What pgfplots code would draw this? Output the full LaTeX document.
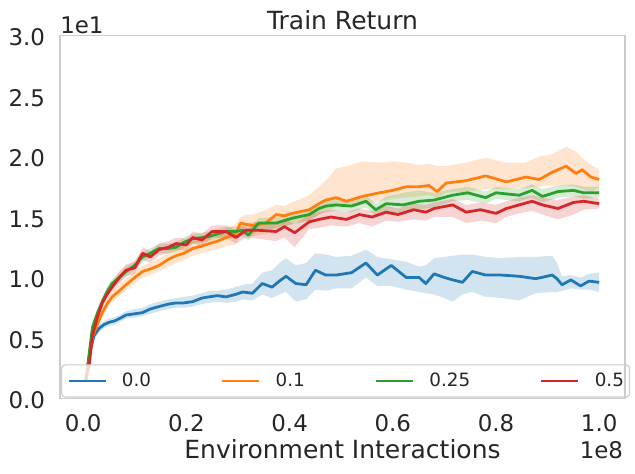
\documentclass[border=0pt]{standalone}
\usepackage{fontspec}
\setmainfont{DejaVu Sans}
\usepackage{pgfplots}
\pgfplotsset{compat=1.18}
\usepackage{pgfplotstable}
\usepgfplotslibrary{fillbetween}
\definecolor{tabblue}{HTML}{1F77B4}
\definecolor{taborange}{HTML}{FF7F0E}
\definecolor{tabgreen}{HTML}{2CA02C}
\definecolor{tabred}{HTML}{D62728}
\definecolor{txt}{HTML}{262626}
\definecolor{spine}{HTML}{CCCCCC}

\pgfplotstableread{
x m lo hi
0.005 0.15 0.12 0.18
0.010 0.30 0.27 0.33
0.015 0.42 0.39 0.45
0.021 0.52 0.49 0.55
0.031 0.58 0.55 0.61
0.040 0.61 0.58 0.64
0.050 0.63 0.60 0.66
0.060 0.64 0.61 0.67
0.070 0.66 0.63 0.69
0.083 0.69 0.66 0.72
0.100 0.70 0.67 0.74
0.115 0.71 0.68 0.75
0.130 0.74 0.70 0.78
0.147 0.76 0.72 0.80
0.165 0.78 0.74 0.82
0.180 0.79 0.75 0.83
0.195 0.79 0.75 0.84
0.212 0.80 0.76 0.85
0.230 0.83 0.78 0.87
0.244 0.84 0.79 0.89
0.260 0.85 0.80 0.89
0.277 0.84 0.79 0.90
0.295 0.86 0.80 0.92
0.309 0.88 0.82 0.94
0.328 0.87 0.81 0.95
0.347 0.95 0.86 1.04
0.366 0.92 0.83 1.06
0.380 0.97 0.86 1.12
0.393 1.01 0.88 1.16
0.412 0.95 0.80 1.10
0.432 0.94 0.82 1.12
0.450 1.06 0.90 1.20
0.470 1.02 0.89 1.19
0.490 1.02 0.91 1.17
0.520 1.04 0.91 1.18
0.548 1.12 1.00 1.23
0.570 1.02 0.93 1.17
0.597 1.10 0.93 1.15
0.626 1.00 0.90 1.13
0.651 1.00 0.88 1.09
0.664 0.95 0.87 1.10
0.680 1.03 0.86 1.16
0.700 1.00 0.83 1.17
0.716 0.98 0.80 1.18
0.735 0.96 0.86 1.19
0.754 1.05 0.88 1.19
0.780 1.02 0.84 1.17
0.810 1.02 0.83 1.16
0.845 1.01 0.81 1.17
0.877 0.99 0.87 1.17
0.909 1.02 0.88 1.18
0.918 0.99 0.88 1.12
0.928 0.94 0.89 1.01
0.945 0.98 0.91 1.02
0.964 0.93 0.90 1.00
0.980 0.97 0.90 1.03
1.000 0.96 0.88 1.04
}\tblue

\pgfplotstableread{
x m lo hi
0.005 0.15 0.12 0.18
0.010 0.30 0.27 0.33
0.018 0.51 0.47 0.55
0.028 0.62 0.58 0.66
0.037 0.71 0.67 0.75
0.046 0.78 0.74 0.82
0.056 0.84 0.80 0.88
0.070 0.89 0.85 0.94
0.083 0.94 0.89 0.99
0.100 1.00 0.95 1.05
0.115 1.05 1.00 1.10
0.130 1.07 1.02 1.12
0.147 1.10 1.05 1.16
0.165 1.15 1.09 1.20
0.180 1.18 1.12 1.24
0.195 1.20 1.14 1.26
0.212 1.24 1.18 1.30
0.230 1.26 1.20 1.32
0.244 1.28 1.22 1.35
0.260 1.30 1.23 1.37
0.277 1.33 1.26 1.40
0.295 1.36 1.27 1.44
0.305 1.45 1.35 1.50
0.315 1.44 1.36 1.52
0.328 1.43 1.34 1.52
0.354 1.45 1.36 1.56
0.374 1.52 1.42 1.60
0.390 1.51 1.43 1.59
0.405 1.53 1.44 1.62
0.438 1.56 1.47 1.68
0.457 1.61 1.52 1.75
0.470 1.64 1.55 1.80
0.490 1.66 1.58 1.90
0.510 1.63 1.58 1.92
0.541 1.67 1.60 1.96
0.574 1.70 1.63 1.95
0.600 1.72 1.65 1.96
0.626 1.75 1.66 1.95
0.650 1.75 1.67 1.93
0.670 1.76 1.68 1.94
0.686 1.71 1.66 1.92
0.703 1.78 1.70 1.92
0.742 1.80 1.71 1.95
0.780 1.84 1.73 1.99
0.820 1.79 1.73 1.95
0.858 1.83 1.74 1.95
0.884 1.81 1.75 2.00
0.909 1.87 1.76 2.02
0.936 1.92 1.76 2.08
0.955 1.86 1.75 2.04
0.967 1.89 1.73 1.99
0.984 1.83 1.71 1.93
1.000 1.81 1.74 1.89
}\torange

\pgfplotstableread{
x m lo hi
0.005 0.15 0.12 0.18
0.010 0.32 0.29 0.35
0.018 0.59 0.55 0.63
0.028 0.71 0.67 0.75
0.037 0.80 0.76 0.84
0.046 0.88 0.84 0.92
0.056 0.95 0.91 0.99
0.070 1.00 0.96 1.04
0.083 1.05 1.01 1.09
0.100 1.10 1.06 1.14
0.115 1.17 1.13 1.21
0.130 1.20 1.16 1.24
0.147 1.24 1.20 1.28
0.165 1.24 1.20 1.28
0.180 1.25 1.21 1.29
0.195 1.29 1.25 1.33
0.212 1.32 1.28 1.36
0.230 1.33 1.29 1.37
0.244 1.34 1.30 1.38
0.260 1.36 1.32 1.40
0.277 1.38 1.34 1.42
0.295 1.38 1.33 1.42
0.309 1.39 1.34 1.43
0.320 1.35 1.31 1.40
0.340 1.45 1.40 1.49
0.374 1.45 1.40 1.50
0.405 1.49 1.44 1.54
0.438 1.52 1.47 1.57
0.457 1.57 1.52 1.62
0.470 1.59 1.54 1.64
0.490 1.60 1.55 1.65
0.520 1.59 1.54 1.64
0.548 1.63 1.58 1.68
0.567 1.56 1.51 1.61
0.587 1.61 1.55 1.67
0.620 1.60 1.52 1.70
0.651 1.63 1.56 1.72
0.680 1.64 1.58 1.70
0.716 1.68 1.63 1.73
0.745 1.70 1.64 1.75
0.780 1.66 1.61 1.71
0.800 1.70 1.65 1.75
0.845 1.68 1.63 1.73
0.870 1.72 1.66 1.77
0.890 1.67 1.62 1.73
0.920 1.71 1.66 1.76
0.950 1.72 1.67 1.77
0.970 1.70 1.65 1.75
1.000 1.70 1.66 1.75
}\tgreen

\pgfplotstableread{
x m lo hi
0.005 0.15 0.12 0.18
0.012 0.29 0.26 0.32
0.018 0.52 0.48 0.56
0.028 0.68 0.64 0.72
0.037 0.79 0.75 0.83
0.046 0.86 0.82 0.90
0.056 0.92 0.88 0.96
0.070 1.00 0.95 1.05
0.083 1.06 1.01 1.11
0.100 1.08 1.03 1.13
0.115 1.20 1.15 1.25
0.130 1.17 1.12 1.22
0.147 1.23 1.18 1.28
0.165 1.25 1.20 1.30
0.180 1.28 1.23 1.33
0.200 1.27 1.22 1.32
0.212 1.33 1.28 1.38
0.230 1.31 1.26 1.36
0.250 1.38 1.33 1.43
0.277 1.38 1.33 1.43
0.296 1.33 1.28 1.39
0.315 1.39 1.33 1.45
0.340 1.39 1.32 1.46
0.374 1.38 1.30 1.45
0.390 1.42 1.33 1.48
0.410 1.37 1.25 1.44
0.438 1.46 1.40 1.52
0.457 1.48 1.41 1.54
0.480 1.50 1.43 1.56
0.510 1.48 1.42 1.54
0.535 1.52 1.45 1.57
0.560 1.50 1.42 1.55
0.587 1.54 1.47 1.59
0.610 1.52 1.46 1.57
0.640 1.56 1.48 1.61
0.664 1.54 1.47 1.60
0.680 1.57 1.50 1.62
0.716 1.60 1.50 1.65
0.742 1.54 1.45 1.60
0.770 1.56 1.47 1.62
0.800 1.53 1.45 1.60
0.820 1.57 1.50 1.63
0.845 1.60 1.53 1.66
0.870 1.63 1.55 1.68
0.890 1.60 1.52 1.66
0.920 1.57 1.48 1.64
0.950 1.62 1.52 1.67
0.970 1.63 1.56 1.68
1.000 1.61 1.57 1.65
}\tred

\newcommand{\ticksz}{\fontsize{16.5}{19.8}\selectfont}
\newcommand{\labsz}{\fontsize{18}{21.6}\selectfont}
\newcommand{\legsz}{\fontsize{13.2}{15.8}\selectfont}

\begin{document}
\begin{tikzpicture}
\begin{axis}[
  name=ax,
  at={(43.2pt,54.36pt)}, anchor=south west,
  scale only axis, width=406.8pt, height=261.36pt,
  xmin=-0.045, xmax=1.05, ymin=0, ymax=3.0,
  axis line style={draw=spine, line width=1.4pt},
  major tick length=0pt,
  xtick={0,0.2,0.4,0.6,0.8,1.0},
  xticklabels={0.0,0.2,0.4,0.6,0.8,1.0},
  ytick={0,0.5,1.0,1.5,2.0,2.5,3.0},
  yticklabels={0.0,0.5,1.0,1.5,2.0,2.5,3.0},
  scaled ticks=false,
  xticklabel style={font=\ticksz, text=txt, anchor=base, inner sep=0pt, yshift=-23.5pt},
  yticklabel style={font=\ticksz, text=txt, anchor=east, inner sep=0pt, xshift=-10.6pt, yshift=-1.4pt},
  xlabel={Environment Interactions},
  xlabel style={font=\labsz, text=txt, at={(axis description cs:0.5,0)}, anchor=base, inner sep=0pt, yshift=-43.2pt},
  title={Train Return},
  every axis title shift=0pt,
  title style={font=\labsz, text=txt, at={(axis description cs:0.5,1)}, anchor=base, inner sep=0pt, yshift=4.5pt},
  legend columns=4,
  legend image code/.code={\draw[#1] (0pt,0pt) -- (26.6pt,0pt);},
  legend style={
    at={(axis description cs:0,0)}, anchor=south west, xshift=0.8pt, yshift=0.7pt,
    draw=spine, line width=0.8pt, rounded corners=2.5pt,
    fill=white, fill opacity=0.8, text opacity=1, draw opacity=1,
    font=\legsz, text=txt,
    inner xsep=4pt, inner ysep=5.9pt,
    nodes={inner sep=0pt},
    /tikz/every odd column/.append style={column sep=10.8pt},
    /tikz/every even column/.append style={column sep=50.3pt},
  },
  line join=round,
]
\addplot[draw=none, forget plot, name path=bhi] table[x=x,y=hi]{\tblue};
\addplot[draw=none, forget plot, name path=blo] table[x=x,y=lo]{\tblue};
\addplot[tabblue, fill opacity=0.2, draw=none, forget plot] fill between[of=bhi and blo];
\addplot[tabblue, line width=2pt] table[x=x,y=m]{\tblue};
\addlegendentry{0.0}

\addplot[draw=none, forget plot, name path=ohi] table[x=x,y=hi]{\torange};
\addplot[draw=none, forget plot, name path=olo] table[x=x,y=lo]{\torange};
\addplot[taborange, fill opacity=0.2, draw=none, forget plot] fill between[of=ohi and olo];
\addplot[taborange, line width=2pt] table[x=x,y=m]{\torange};
\addlegendentry{0.1}

\addplot[draw=none, forget plot, name path=ghi] table[x=x,y=hi]{\tgreen};
\addplot[draw=none, forget plot, name path=glo] table[x=x,y=lo]{\tgreen};
\addplot[tabgreen, fill opacity=0.2, draw=none, forget plot] fill between[of=ghi and glo];
\addplot[tabgreen, line width=2pt] table[x=x,y=m]{\tgreen};
\addlegendentry{0.25}

\addplot[draw=none, forget plot, name path=rhi] table[x=x,y=hi]{\tred};
\addplot[draw=none, forget plot, name path=rlo] table[x=x,y=lo]{\tred};
\addplot[tabred, fill opacity=0.2, draw=none, forget plot] fill between[of=rhi and rlo];
\addplot[tabred, line width=2pt] table[x=x,y=m]{\tred};
\addlegendentry{0.5}
\end{axis}
\draw[spine, line width=1.4pt] (ax.south west) rectangle (ax.north east);
\node[font=\ticksz, text=txt, anchor=base west, inner sep=0pt, yshift=1.7pt] at (ax.north west) {1e1};
\node[font=\ticksz, text=txt, anchor=base east, inner sep=0pt, xshift=-1.2pt, yshift=-43.2pt] at (ax.south east) {1e8};
\pgfresetboundingbox
\path[use as bounding box] (0,0) rectangle (457.2pt,341.28pt);
\end{tikzpicture}
\end{document}
